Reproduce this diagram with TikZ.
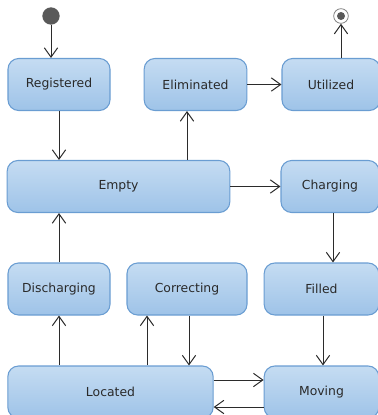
\documentclass[tikz,border=0pt]{standalone}
\usepackage{fontspec}
\setmainfont{DejaVu Sans}
\usetikzlibrary{positioning, arrows.meta}
\definecolor{statetop}{HTML}{C5DCF2}
\definecolor{statebot}{HTML}{9EC3E8}
\definecolor{stateline}{HTML}{6A9DD2}
\definecolor{statetext}{HTML}{2A2A2A}
\definecolor{flowline}{HTML}{2B2B2B}
\tikzset{statebox/.style={rectangle, rounded corners=8pt, draw=stateline, line width=0.8pt,
    top color=statetop, bottom color=statebot, text=statetext, inner sep=0pt,
    minimum height=39pt, font=\fontsize{9.3}{11}\selectfont}}
\tikzset{>={Straight Barb[length=7pt,width=10pt,line width=0.75pt]}, flow/.style={draw=flowline, line width=0.75pt, ->}}

\begin{document}
\begin{tikzpicture}[x=0.75pt, y=-0.75pt]
	\useasboundingbox (0,0) rectangle (378,415);

	% pseudo states
	\node (init) [circle, fill=black!65, inner sep=0pt, minimum size=13pt] at (51,16) {};
	\node (final) [circle, draw=black!50, line width=0.6pt, fill=white, inner sep=0pt, minimum size=11pt] at (341,16) {};
	\fill[black!65] (final) circle (3pt);

	% states
	\node (reg)    [statebox, minimum width=76.5pt] at (59,84.5)   {Registered};
	\node (elim)   [statebox, minimum width=77pt]   at (195.5,84.5) {Eliminated};
	\node (util)   [statebox, minimum width=73.5pt] at (331,84.5)  {Utilized};
	\node (empty)  [statebox, minimum width=167pt]  at (118.5,186.5) {Empty};
	\node (chg)    [statebox, minimum width=73.5pt] at (330,186.5) {Charging};
	\node (disch)  [statebox, minimum width=76.5pt] at (59,289)    {Discharging};
	\node (corr)   [statebox, minimum width=90pt]   at (187,289)   {Correcting};
	\node (filled) [statebox, minimum width=86pt]   at (321.5,289) {Filled};
	\node (loc)    [statebox, minimum width=154pt]  at (110.5,392) {Located};
	\node (mov)    [statebox, minimum width=86pt]   at (321.5,392) {Moving};

	% transitions
	\draw [flow] (init) -- (init |- reg.north);
	\draw [flow] (util.north -| final) -- (final);
	\draw [flow] (reg) -- (reg |- empty.north);
	\draw [flow] (elim) -- (util);
	\draw [flow] (empty.north -| 187,0) -- (elim.south -| 187,0);
	\draw [flow] (empty) -- (chg);
	\draw [flow] (chg.south -| 333,0) -- (filled.north -| 333,0);
	\draw [flow] (disch) -- (disch |- empty.south);
	\draw [flow] (loc.north -| disch) -- (disch);
	\draw [flow] (loc.north -| 147,0) -- (corr.south -| 147,0);
	\draw [flow] (corr.south -| 189,0) -- (loc.north -| 189,0);
	\draw [flow] (filled.south -| 323,0) -- (mov.north -| 323,0);
	\draw [flow] (loc.east |- 0,380) -- (mov.west |- 0,380);
	\draw [flow] (mov.west |- 0,407) -- (loc.east |- 0,407);
\end{tikzpicture}
\end{document}
